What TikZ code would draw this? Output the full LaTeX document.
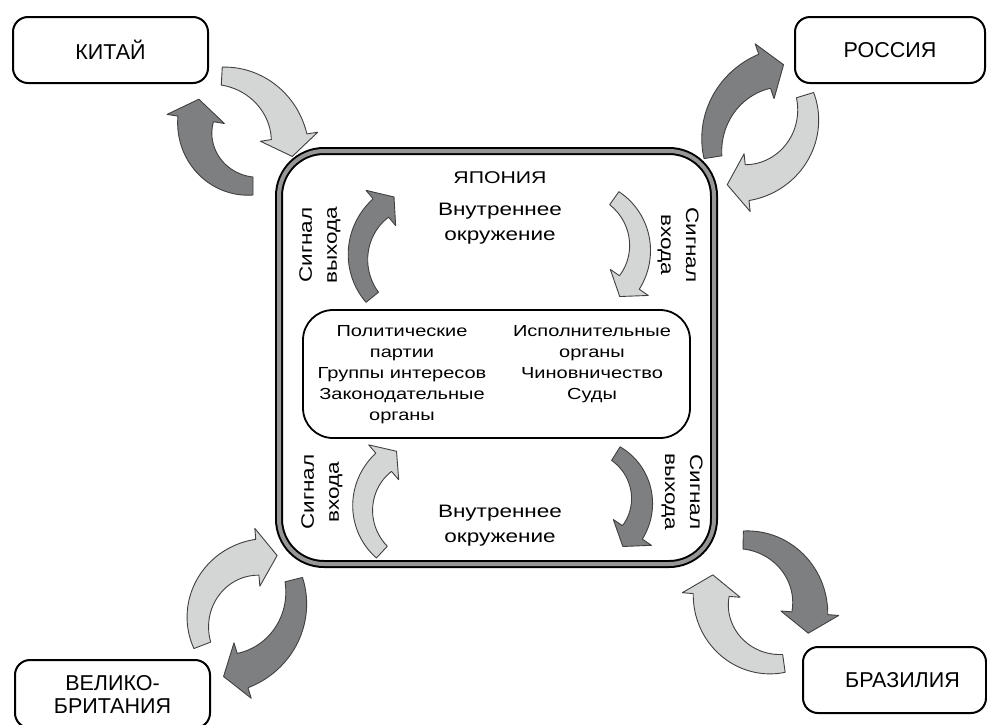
\documentclass[tikz,border=0pt]{standalone}
\usepackage{fontspec}
\setmainfont{Liberation Sans}
\newfontfamily\widefont[FakeStretch=1.25]{Liberation Sans}
\definecolor{darkarrow}{RGB}{125,127,129}
\definecolor{lightarrow}{RGB}{212,213,213}
\definecolor{bordergray}{RGB}{150,150,150}
\tikzset{
  blockarrow/.style={draw=black!75, line width=0.9pt, line join=round},
  country/.style={draw, line width=2pt, rounded corners=15pt, fill=white, inner sep=0pt,
    font=\fontsize{21.5}{23}\selectfont, align=center},
  japanbox/.style={draw, line width=2pt, double=bordergray, double distance=4pt,
    rounded corners=45pt, fill=white, inner sep=0pt},
  corebox/.style={draw, line width=1.8pt, rounded corners=30pt, inner sep=0pt},
  coretext/.style={inner sep=0pt, align=center, font=\widefont\fontsize{16}{21}\selectfont},
  envtext/.style={inner sep=0pt, align=center, font=\widefont\fontsize{18}{25}\selectfont},
  sigtext/.style={inner sep=0pt, align=center, font=\widefont\fontsize{18}{25}\selectfont},
  titletext/.style={inner sep=0pt, font=\widefont\fontsize{17}{20}\selectfont}
}
% #1 fill, #2 cx, #3 cy, #4 r, #5 tail angle, #6 head-base angle, #7 tip angle, #8 tail width, #9 head-base width
\newcommand{\carrow}[9]{%
  \pgfmathsetmacro{\hwo}{#4+(#9+22)/2}%
  \pgfmathsetmacro{\hwi}{#4-(#9+22)/2}%
  \pgfmathsetmacro{\tipr}{#4/cos((#7)-(#6))}%
  \filldraw[blockarrow, fill=#1]
    plot[domain=#5:#6, samples=40, variable=\ang]
      ({#2+(#4+(#8+(#9-#8)*(\ang-(#5))/((#6)-(#5)))/2)*cos(\ang)},
       {#3+(#4+(#8+(#9-#8)*(\ang-(#5))/((#6)-(#5)))/2)*sin(\ang)})
    -- ({#2+\hwo*cos(#6)}, {#3+\hwo*sin(#6)})
    -- ({#2+\tipr*cos(#7)}, {#3+\tipr*sin(#7)})
    -- ({#2+\hwi*cos(#6)}, {#3+\hwi*sin(#6)})
    -- plot[domain=#6:#5, samples=40, variable=\ang]
      ({#2+(#4-(#8+(#9-#8)*(\ang-(#5))/((#6)-(#5)))/2)*cos(\ang)},
       {#3+(#4-(#8+(#9-#8)*(\ang-(#5))/((#6)-(#5)))/2)*sin(\ang)})
    -- cycle;}
\begin{document}
\begin{tikzpicture}[x=1pt, y=-1pt]
\useasboundingbox (0,0) rectangle (987,724);
\fill[white] (0,0) rectangle (987,724);

% Japan
\node[japanbox, minimum width=435pt, minimum height=413pt] (japan) at (496.5,357.5) {};
\node[titletext, anchor=base] (jtitle) at (500,183) {ЯПОНИЯ};
\node[corebox, minimum width=387pt, minimum height=128pt] (core) at (496.5,374) {};
\node[coretext, anchor=north] (left) at (402,325) {Политические\\партии\\Группы интересов\\Законодательные\\органы};
\node[coretext, anchor=north] (right) at (592,325) {Исполнительные\\органы\\Чиновничество\\Суды};
\node[envtext, anchor=north] (envtop) at (500,203) {Внутреннее\\окружение};
\node[envtext, anchor=north] (envbot) at (500,504.5) {Внутреннее\\окружение};
\node[sigtext, rotate=90] (s1) at (320,245) {Сигнал\\выхода};
\node[sigtext, rotate=-90] (s2) at (678,245) {Сигнал\\входа};
\node[sigtext, rotate=90] (s3) at (322,492) {Сигнал\\входа};
\node[sigtext, rotate=-90] (s4) at (682,492) {Сигнал\\выхода};

% inner arrows
\carrow{darkarrow}{422}{257}{64}{141}{230}{245}{16}{24}
\carrow{lightarrow}{579}{248}{61}{-54.7}{34.4}{50}{16}{24}
\carrow{lightarrow}{423}{508}{60.3}{133}{229.3}{245}{16}{24}
\carrow{darkarrow}{586}{501}{56}{-57.8}{34.1}{51}{16}{24}

% outer arrows
\carrow{lightarrow}{218}{148}{72}{-87}{-9}{6.5}{18}{36}
\carrow{darkarrow}{253}{128}{58}{90}{189}{208}{18}{36}
\carrow{darkarrow}{790}{145}{78}{171}{251}{265.4}{18}{36}
\carrow{lightarrow}{740}{115}{68}{-17}{84}{100.4}{18}{36}
\carrow{lightarrow}{263}{622}{65}{159}{265}{282}{18}{36}
\carrow{darkarrow}{220}{598}{76}{-14}{72.7}{87.4}{18}{36}
\carrow{darkarrow}{742}{608}{68}{-89}{4.4}{20.8}{18}{36}
\carrow{lightarrow}{775}{600}{64}{82}{184.5}{202}{18}{36}

% countries
\node[country, minimum width=195pt, minimum height=66pt] (china) at (110.5,50) {КИТАЙ};
\node[country, minimum width=190pt, minimum height=66pt] (russia) at (890,50) {РОССИЯ};
\node[country, minimum width=195pt, minimum height=68pt] (britain) at (112.5,694) {ВЕЛИКО-\\БРИТАНИЯ};
\node[country, minimum width=183pt, minimum height=66pt] (brazil) at (894.5,680) {\hspace*{16pt}БРАЗИЛИЯ};
\end{tikzpicture}
\end{document}
